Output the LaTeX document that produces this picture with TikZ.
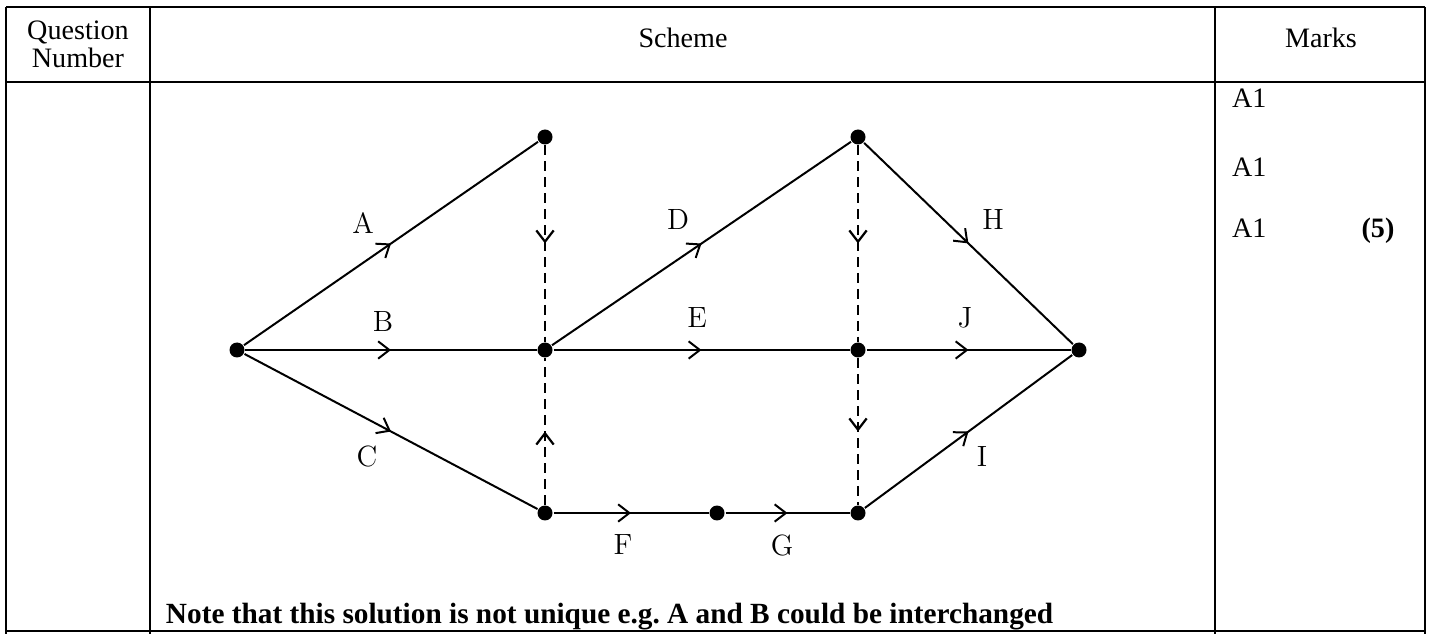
\documentclass[tikz,border=0pt]{standalone}
\usepackage{fontspec}
\newfontfamily\tabfont{Liberation Serif}
\usetikzlibrary{%
  arrows.meta,%
  decorations.markings,% wg. arrows in mid edge
  positioning%
}
\frenchspacing

\begin{document}
\begin{tikzpicture}
  [
  x=0.015cm, y=-0.015cm,
  line width=0.85pt,
  >={Straight Barb[length=4.8pt,width=7.4pt]},
  rule/.style={line width=1.25pt},
  tabtext/.style={font=\tabfont\fontsize{12}{14}\selectfont, inner sep=0pt},
  event/.style={circle, fill=black, inner sep=0pt, minimum size=6.4pt},
  activity/.style={postaction={decorate},
    decoration={markings, mark=at position 0.5 with {\pgfsetdash{}{0pt}\arrow{>}}}},
  dummy/.style={activity, line width=0.95pt, dash pattern=on 4.2pt off 2.6pt},
  actlabel/.style={font=\fontsize{12.5}{15}\selectfont, inner sep=0pt},
  ]

\useasboundingbox (0,0) rectangle (1431,634);

% table
\draw[rule] (6,7) -- (1425,7);
\draw[rule] (6,82) -- (1425,82);
\draw[rule] (6,631) -- (1425,631);
\foreach \x in {6,150,1215,1425}
  \draw[rule] (\x,7) -- (\x,634);

\node[tabtext, anchor=base] (qn1) at (78,40) {Question};
\node[tabtext, anchor=base] (qn2) at (78,68) {Number};
\node[tabtext, anchor=base] (scheme) at (683,48) {Scheme};
\node[tabtext, anchor=base] (marks) at (1321,48) {Marks};

\node[tabtext, anchor=base west] (mk1) at (1231,108) {A1};
\node[tabtext, anchor=base west] (mk2) at (1231,177) {A1};
\node[tabtext, anchor=base west] (mk3) at (1231,238) {A1};
\node[tabtext, anchor=base, font=\tabfont\bfseries\fontsize{12}{14}\selectfont] (total) at (1378,238) {(5)};

\node[tabtext, anchor=base west, font=\tabfont\bfseries\fontsize{12.5}{14}\selectfont] (note) at (165,623)
  {Note that this solution is not unique e.g. A and B could be interchanged};

% events
\node[event] (start) at (237,350) {};
\node[event] (up1) at (545,137) {};
\node[event] (mid1) at (545,350) {};
\node[event] (low1) at (545,513) {};
\node[event] (lowmid) at (717,513) {};
\node[event] (up2) at (858,137) {};
\node[event] (mid2) at (858,350) {};
\node[event] (low2) at (858,513) {};
\node[event] (finish) at (1079,350) {};

% activities
\draw[activity] (start) -- (up1);
\draw[activity] (start) -- (mid1);
\draw[activity] (start) -- (low1);
\draw[dummy] (up1) -- (mid1);
\draw[dummy] (low1) -- (mid1);
\draw[activity] (mid1) -- (up2);
\draw[activity] (mid1) -- (mid2);
\draw[activity] (low1) -- (lowmid);
\draw[activity] (lowmid) -- (low2);
\draw[dummy] (up2) -- (mid2);
\draw[dummy] (mid2) -- (low2);
\draw[activity] (up2) -- (finish);
\draw[activity] (mid2) -- (finish);
\draw[activity] (low2) -- (finish);

\node[actlabel] (lA) at (363,223) {A};
\node[actlabel] (lB) at (383,321) {B};
\node[actlabel] (lC) at (367,456) {C};
\node[actlabel] (lD) at (678,220) {D};
\node[actlabel] (lE) at (697,318) {E};
\node[actlabel] (lF) at (623,545) {F};
\node[actlabel] (lG) at (782,545) {G};
\node[actlabel] (lH) at (993,220) {H};
\node[actlabel] (lI) at (982,456) {I};
\node[actlabel] (lJ) at (965,318) {J};
\end{tikzpicture}
\end{document}
